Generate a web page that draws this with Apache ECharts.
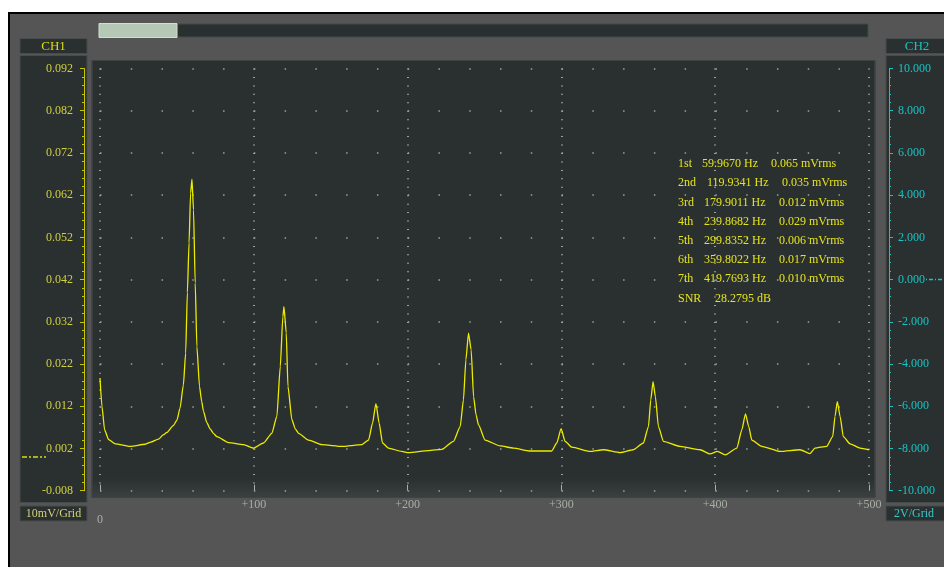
<!DOCTYPE html>
<html><head><meta charset="utf-8">
<script src="https://cdn.jsdelivr.net/npm/echarts@6/dist/echarts.min.js"></script>
<style>html,body{margin:0;padding:0;background:#fff;}#c{width:944px;height:567px;}</style>
</head><body><div id="c"></div>
<script>
// Spectrum trace: [frequency (Hz), amplitude (CH1 value)]
const spectrum = [
  [0,0.0187],[1.3,0.0119],[3,0.0064],[5.6,0.0041],[10,0.0031],[19.7,0.0025],[29.4,0.0030],[33,0.0035],[38,0.0042],
  [41.1,0.0052],[43.5,0.0058],[47.6,0.0074],[50,0.0087],[52,0.0115],[54.2,0.0170],[55.7,0.0246],[56.8,0.0389],[57.9,0.0507],
  [58.9,0.0625],[59.8,0.0658],[60.8,0.0585],[61.9,0.0412],[63,0.0261],[64.7,0.0167],[66.1,0.0132],[67.3,0.0108],[69.4,0.0082],
  [71.7,0.0066],[73.7,0.0056],[76,0.0048],[83.6,0.0034],[93.3,0.0029],[99.8,0.0021],[106.3,0.0033],[111.7,0.0056],
  [115,0.0096],[117.2,0.0214],[118.9,0.0332],[119.6,0.0356],[121.1,0.0294],[122.2,0.0167],[124.8,0.0088],
  [127,0.0066],[129.1,0.0056],[135.6,0.0040],[144.3,0.0029],[157.3,0.0025],[170.3,0.0029],[174.6,0.0040],[177.2,0.0080],
  [179.4,0.0126],[181.5,0.0080],[183.7,0.0033],[187.5,0.0021],[196.2,0.0013],[200.6,0.0010],[213.6,0.0015],
  [222.3,0.0018],[229.8,0.0037],[234.2,0.0072],[236.3,0.0135],[237.9,0.0230],[239.6,0.0293],[241.3,0.0254],
  [242.9,0.0143],[244.5,0.0100],[246.1,0.0076],[250.4,0.0040],[260.2,0.0026],[268.8,0.0021],[279.7,0.0014],[293.7,0.0014],
  [297,0.0033],[299.8,0.0067],[302.4,0.0037],[306.8,0.0023],[318.7,0.0013],[327.3,0.0017],[338.2,0.0010],
  [346.8,0.0017],[353.3,0.0033],[356.6,0.0072],[358.1,0.0135],[359.6,0.0178],[361.1,0.0143],[363.1,0.0072],
  [366.3,0.0037],[377.2,0.0025],[390.2,0.0017],[396.7,0.0007],[401.5,0.0013],[406.5,0.0005],[414.1,0.0021],
  [417.3,0.0064],[419.7,0.0102],[421.8,0.0072],[423.8,0.0040],[430.3,0.0025],[442.2,0.0013],[455.1,0.0017],
  [461.6,0.0008],[464.9,0.0021],[472.5,0.0025],[476.4,0.0048],[477.9,0.0096],[479.4,0.0131],[481.2,0.0096],
  [483.3,0.0048],[487.7,0.0031],[494.2,0.0021],[500,0.0017]
];
const xRange = [0, 500];
const xStep = 100;
const ch1Range = [-0.008, 0.092];
const ch1Step = 0.01;
const ch2Range = [-10, 10];
const ch2Step = 2;
const ch1Title = 'CH1';
const ch2Title = 'CH2';
const ch1Scale = '10mV/Grid';
const ch2Scale = '2V/Grid';
const harmonicNames = ['1st','2nd','3rd','4th','5th','6th','7th'];
const harmonicFreqs = ['59.9670','119.9341','179.9011','239.8682','299.8352','359.8022','419.7693'];
const harmonicAmps = ['0.065','0.035','0.012','0.029','0.006','0.017','0.010'];
const snrValue = '28.2795';

const SERIF = '"Liberation Serif","DejaVu Serif",serif';
const PANEL = '#2a2f2f';
const YEL = '#dcdc10';
const CYAN = '#19c3c3';
const DOT = '#9aa2a2';

const chart = echarts.init(document.getElementById('c'), null, {renderer: 'canvas'});

const bg = [
  {type:'rect', z:-20, shape:{x:9,y:13,width:960,height:580}, style:{fill:'#555555', stroke:'#000', lineWidth:2}},
  {type:'rect', z:-19, shape:{x:176,y:24,width:692,height:13}, style:{fill:PANEL, stroke:'#454a4a', lineWidth:1}},
  {type:'rect', z:-19, shape:{x:99,y:23.5,width:78,height:14}, style:{fill:'#b5c7b5', stroke:'#d2ded2', lineWidth:1}},
  {type:'rect', z:-19, shape:{x:20,y:38.5,width:67,height:15}, style:{fill:PANEL, stroke:'#474c4c', lineWidth:1}},
  {type:'rect', z:-19, shape:{x:20,y:55.5,width:67,height:447}, style:{fill:PANEL, stroke:'#474c4c', lineWidth:1}},
  {type:'rect', z:-19, shape:{x:20,y:506,width:67,height:15}, style:{fill:PANEL, stroke:'#474c4c', lineWidth:1}},
  {type:'rect', z:-19, shape:{x:886,y:38.5,width:62,height:15}, style:{fill:PANEL, stroke:'#474c4c', lineWidth:1}},
  {type:'rect', z:-19, shape:{x:886,y:55.5,width:62,height:447}, style:{fill:PANEL, stroke:'#474c4c', lineWidth:1}},
  {type:'rect', z:-19, shape:{x:886,y:506,width:62,height:15}, style:{fill:PANEL, stroke:'#474c4c', lineWidth:1}},
  {type:'rect', z:-19, shape:{x:92,y:60.5,width:783,height:437}, style:{
    fill:{type:'linear',x:0,y:0,x2:0,y2:1,colorStops:[{offset:0,color:'#2a2f2f'},{offset:0.955,color:'#2a2f2f'},{offset:1,color:'#3b4040'}]},
    stroke:'#3e4343', lineWidth:1}},
  {type:'text', z:50, style:{x:53.5,y:46.5,text:ch1Title,fill:YEL,font:'13px '+SERIF,textAlign:'center',textVerticalAlign:'middle'}},
  {type:'text', z:50, style:{x:917,y:46.5,text:ch2Title,fill:CYAN,font:'13px '+SERIF,textAlign:'center',textVerticalAlign:'middle'}},
  {type:'text', z:50, style:{x:53.5,y:514,text:ch1Scale,fill:'#d2d27a',font:'12px '+SERIF,textAlign:'center',textVerticalAlign:'middle'}},
  {type:'text', z:50, style:{x:914,y:514,text:ch2Scale,fill:'#3cc8c8',font:'12px '+SERIF,textAlign:'center',textVerticalAlign:'middle'}}
];

// annotation block
const rowY0 = 164, rowDY = 19.2;
const freqX = [702, 707, 704, 704, 704, 704, 704];
const ampX = [771, 782, 779, 779, 779, 779, 779];
const ann = [];
harmonicNames.forEach((n, i) => {
  const y = rowY0 + i * rowDY;
  const f = {font:'12px '+SERIF, fill:'#e4e41e', textVerticalAlign:'middle'};
  ann.push({type:'text', z:50, style:Object.assign({x:678, y:y, text:n}, f)});
  ann.push({type:'text', z:50, style:Object.assign({x:freqX[i], y:y, text:harmonicFreqs[i]+' Hz'}, f)});
  ann.push({type:'text', z:50, style:Object.assign({x:ampX[i], y:y, text:harmonicAmps[i]+' mVrms'}, f)});
});
ann.push({type:'text', z:50, style:{x:678, y:rowY0 + 7*rowDY, text:'SNR', font:'12px '+SERIF, fill:'#e4e41e', textVerticalAlign:'middle'}});
ann.push({type:'text', z:50, style:{x:715, y:rowY0 + 7*rowDY, text:snrValue+' dB', font:'12px '+SERIF, fill:'#e4e41e', textVerticalAlign:'middle'}});

const option = {
  backgroundColor: '#ffffff',
  animation: false,
  grid: {left: 100, right: 75, top: 68.5, bottom: 76.3, containLabel: false},
  xAxis: {
    type: 'value', min: xRange[0], max: xRange[1], interval: xStep,
    axisLine: {show: false, onZero: false},
    axisTick: {show: true, inside: true, length: 6, lineStyle: {color: '#a8b0b0', width: 1}},
    axisLabel: {color: '#a6b0a6', fontFamily: SERIF, fontSize: 12, margin: 7, lineHeight: 15,
      formatter: v => v === 0 ? '\n0' : '+' + v},
    splitLine: {show: true, lineStyle: {color: DOT, width: 2, type: [1, 7.448]}}
  },
  yAxis: [
    {
      type: 'value', min: ch1Range[0], max: ch1Range[1], interval: ch1Step, position: 'left', offset: 16,
      axisLine: {show: true, onZero: false, lineStyle: {color: '#c8c800', width: 1}},
      axisTick: {show: true, length: 4, lineStyle: {color: '#c8c800'}},
      minorTick: {show: true, splitNumber: 5, length: 2, lineStyle: {color: '#c8c800'}},
      axisLabel: {color: '#d0d040', fontFamily: SERIF, fontSize: 12, margin: 11,
        formatter: v => v.toFixed(3)},
      splitLine: {show: true, lineStyle: {color: DOT, width: 1.5, type: [1.5, 29.27]}}
    },
    {
      type: 'value', min: ch2Range[0], max: ch2Range[1], interval: ch2Step, position: 'right', offset: 20,
      axisLine: {show: true, onZero: false, lineStyle: {color: CYAN, width: 1}},
      axisTick: {show: true, length: 4, lineStyle: {color: CYAN}},
      minorTick: {show: true, splitNumber: 5, length: 2, lineStyle: {color: CYAN}},
      axisLabel: {color: CYAN, fontFamily: SERIF, fontSize: 12, margin: 9,
        formatter: v => v.toFixed(3)},
      splitLine: {show: false}
    }
  ],
  series: [{
    type: 'line', xAxisIndex: 0, yAxisIndex: 0, data: spectrum,
    showSymbol: false, symbol: 'none', z: 5, smooth: 0.2, smoothMonotone: 'x',
    lineStyle: {color: '#ecec00', width: 1.3}
  }],
  graphic: {elements: bg.concat(ann)}
};
chart.setOption(option);

// channel zero-level markers, positioned from the axes
const y1 = chart.convertToPixel({yAxisIndex: 0}, 0);
const y2 = chart.convertToPixel({yAxisIndex: 1}, 0);
chart.setOption({graphic: {elements: bg.concat(ann).concat([
  {type:'line', z:50, shape:{x1:22,y1:y1,x2:46,y2:y1}, style:{stroke:YEL, lineWidth:1.5, lineDash:[5,2,2,2]}},
  {type:'line', z:50, shape:{x1:926,y1:y2,x2:944,y2:y2}, style:{stroke:CYAN, lineWidth:1.5, lineDash:[1,2,4,2]}}
])}});
</script></body></html>
